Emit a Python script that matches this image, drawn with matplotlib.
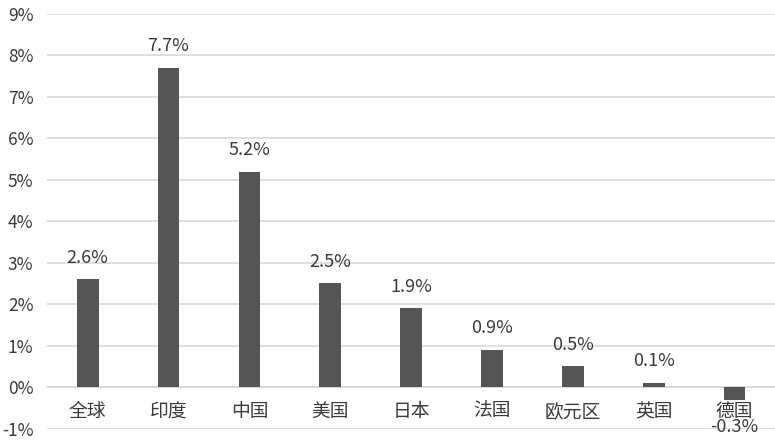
import matplotlib
matplotlib.use("Agg")
import matplotlib.pyplot as plt
import matplotlib.transforms as mtransforms

plt.rcParams['font.family'] = ['Noto Sans CJK SC', 'DejaVu Sans']

categories = ["全球", "印度", "中国", "美国", "日本", "法国", "欧元区", "英国", "德国"]
values = [2.6, 7.7, 5.2, 2.5, 1.9, 0.9, 0.5, 0.1, -0.3]
value_labels = ["2.6%", "7.7%", "5.2%", "2.5%", "1.9%", "0.9%", "0.5%", "0.1%", "-0.3%"]
yticks = [-1, 0, 1, 2, 3, 4, 5, 6, 7, 8, 9]
ytick_labels = ["-1%", "0%", "1%", "2%", "3%", "4%", "5%", "6%", "7%", "8%", "9%"]

text_color = "#3a3a3a"
bar_color = "#555555"

fig = plt.figure(figsize=(7.75, 4.46), dpi=100)
ax = fig.add_axes([0.061, 0.039, 0.939, 0.9296])

x = list(range(len(categories)))
ax.bar(x, values, width=0.27, color=bar_color, zorder=3)

ax.set_xlim(-0.5, len(categories) - 0.5)
ax.set_ylim(-1, 9)
ax.set_yticks(yticks)
ax.set_yticklabels(ytick_labels, fontsize=12.5, color=text_color)
ax.set_xticks([])
ax.grid(axis='y', color='#d9d9d9', linewidth=1.2, zorder=0)
ax.axhline(0, color='#cfcfcf', linewidth=1.2, zorder=1)
ax.tick_params(axis='y', length=0, pad=10)
for s in ax.spines.values():
    s.set_visible(False)

for xi, v, lab in zip(x, values, value_labels):
    if v >= 0:
        ax.annotate(lab, (xi, v), xytext=(0, 9), textcoords='offset points',
                    ha='center', va='bottom', fontsize=13, color=text_color, zorder=5)
    else:
        ax.annotate(lab, (xi, v), xytext=(0, -13), textcoords='offset points',
                    ha='center', va='top', fontsize=13, color=text_color, zorder=5)

offset = mtransforms.offset_copy(ax.transData, fig=fig, x=0, y=-10, units='points')
for xi, c in zip(x, categories):
    ax.text(xi, 0, c, transform=offset, ha='center', va='top', fontsize=13.5,
            color=text_color, zorder=4)

fig.savefig("out.png", dpi=100)
